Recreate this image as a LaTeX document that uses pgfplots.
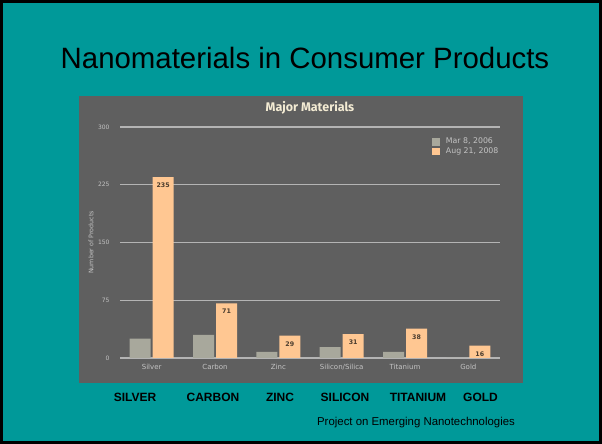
\documentclass[border=0pt]{standalone}
\usepackage{fontspec}
\setmainfont{Liberation Sans}
\newfontfamily\dejavu{DejaVu Sans}
\newfontfamily\fira{Fira Sans}
\usepackage{pgfplots}
\pgfplotsset{compat=1.18}
\definecolor{slideteal}{HTML}{009999}
\definecolor{panel}{HTML}{5F5F5F}
\definecolor{gridc}{HTML}{B4B4B4}
\definecolor{bargray}{HTML}{A8A89C}
\definecolor{barpeach}{HTML}{FFC792}
\definecolor{lbl}{HTML}{C4C4C4}
\definecolor{ttl}{HTML}{F3EBD3}
\definecolor{vallbl}{HTML}{4A3C2E}
\pgfplotsset{sqleg/.style={legend image code/.code={\fill[##1] (0bp,-3.8bp) rectangle (7.6bp,3.8bp);}}}
\begin{document}
\begin{tikzpicture}[x=1bp,y=1bp]
\fill[slideteal] (0,0) rectangle (602,444);
\draw[black,line width=3bp] (1.5,1.5) rectangle (600.5,442.5);
\fill[panel] (79,61) rectangle (523,348);
\node[anchor=base,font=\fontsize{29.4bp}{34bp}\selectfont] at (305,375) {Nanomaterials in Consumer Products};
\begin{axis}[at={(120bp,86bp)}, anchor=south west, scale only axis,
  width=380bp, height=231bp,
  ybar=2bp, bar width=21bp,
  xmin=-0.5, xmax=5.5, ymin=0, ymax=300,
  ytick={0,75,150,225,300},
  xtick={0,1,2,3,4,5},
  xticklabels={Silver,Carbon,Zinc,Silicon/Silica,Titanium,Gold},
  axis line style={draw=none}, major tick length=0pt,
  ymajorgrids, grid style={gridc,line width=1.3bp},
  /pgf/number format/assume math mode=true,
  tick label style={font=\dejavu\fontsize{6bp}{7bp}\selectfont, text=lbl},
  xticklabel style={font=\dejavu\fontsize{7bp}{8bp}\selectfont, yshift=-3bp},
  yticklabel style={xshift=-7bp},
  ylabel={Number of Products},
  ylabel style={at={(axis description cs:-0.0763,0.5)}, anchor=center, rotate=0,
    font=\dejavu\fontsize{6.3bp}{7bp}\selectfont, text=lbl},
  title={Major Materials},
  title style={at={(axis description cs:0.5,1.056)}, anchor=center,
    font=\fira\bfseries\fontsize{12.5bp}{13bp}\selectfont, text=ttl},
  legend style={at={(axis description cs:0.821,0.958)}, anchor=north west,
    draw=none, fill=none, text=lbl, inner sep=0pt,
    font=\dejavu\fontsize{7.8bp}{8bp}\selectfont, row sep=0bp,
    nodes={inner sep=1.2bp},
    /tikz/every odd column/.append style={column sep=5bp}},
  legend cell align=left,
]
\addplot[fill=bargray, draw=none, sqleg] coordinates {(0,25) (1,30) (2,8) (3,14) (4,8) (5,0)};
\addlegendentry{Mar 8, 2006}
\addplot[fill=barpeach, draw=none, sqleg, nodes near coords,
  every node near coord/.append style={anchor=north, yshift=-2.5bp,
    font=\dejavu\bfseries\fontsize{6.3bp}{7bp}\selectfont, text=vallbl}]
  coordinates {(0,235) (1,71) (2,29) (3,31) (4,38) (5,16)};
\addlegendentry{Aug 21, 2008}
\end{axis}
\begin{scope}[font=\bfseries\fontsize{12bp}{14bp}\selectfont]
\node[anchor=base] at (135,42) {SILVER};
\node[anchor=base] at (213,42) {CARBON};
\node[anchor=base] at (280,42) {ZINC};
\node[anchor=base] at (345,42) {SILICON};
\node[anchor=base] at (418,42) {TITANIUM};
\node[anchor=base] at (480.5,42) {GOLD};
\end{scope}
\node[anchor=base,font=\fontsize{11.4bp}{13bp}\selectfont] at (416,18.5) {Project on Emerging Nanotechnologies};
\pgfresetboundingbox
\path (0,0) rectangle (602,444);
\end{tikzpicture}
\end{document}
